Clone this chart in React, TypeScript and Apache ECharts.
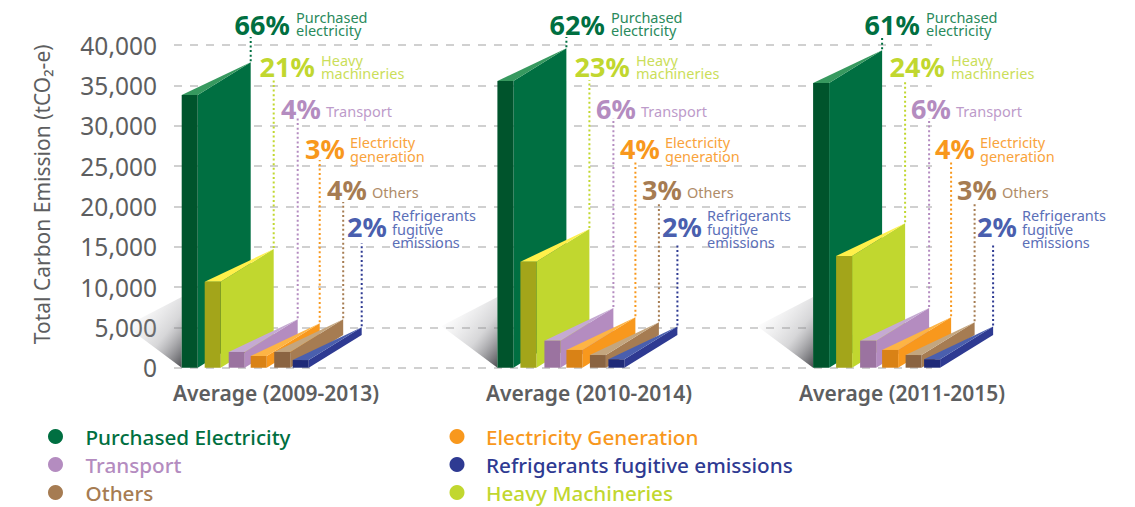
import React, { useEffect, useRef } from "react";
import * as echarts from "echarts";

const periods = ["Average (2009-2013)", "Average (2010-2014)", "Average (2011-2015)"];
const purchased = [33800, 35540, 35290];
const heavy = [10660, 13140, 13850];
const transport = [1950, 3350, 3350];
const electricity = [1450, 2200, 2200];
const others = [1950, 1570, 1570];
const refrigerants = [950, 1040, 1040];

const purchasedPct = [66, 62, 61];
const heavyPct = [21, 23, 24];
const transportPct = [4, 6, 6];
const electricityPct = [3, 4, 4];
const othersPct = [4, 3, 3];
const refrigerantsPct = [2, 2, 2];

const FONT = '"Noto Sans", sans-serif';
const GREY = "#5d5e60";
const GROUP_STEP = 315.7;
const TEXT_STEP = 315;
const BAR_W = 16;
const DEPTH_X = 53;
const DEPTH_Y = 32.7;
const GRID_LEFT = 174;
const GRID_WIDTH = 758;
const BASE_X = 181.7;

type Spec = {
  name: string;
  values: number[];
  pct: number[];
  offset: number;
  front: string;
  side: string;
  top: string;
  legend: string;
  pctColor: string;
  nameColor: string;
  lines: string[];
  pctX: number;
  pctY: number;
  nameX: number;
  nameY: number;
  leaderTop: number;
};

const specs: Spec[] = [
  { name: "Purchased Electricity", values: purchased, pct: purchasedPct, offset: 0, front: "#00542c", side: "#006f41", top: "#37995f", legend: "#006f41", pctColor: "#006f41", nameColor: "#2a8a5c", lines: ["Purchased", "electricity"], pctX: 234.5, pctY: 24, nameX: 296, nameY: 23.5, leaderTop: 37 },
  { name: "Heavy Machineries", values: heavy, pct: heavyPct, offset: 23, front: "#a3a51a", side: "#c1d72f", top: "#fff04a", legend: "#c1d72f", pctColor: "#c1d72f", nameColor: "#cbde5a", lines: ["Heavy", "machineries"], pctX: 259.5, pctY: 66, nameX: 321, nameY: 66.5, leaderTop: 80 },
  { name: "Transport", values: transport, pct: transportPct, offset: 47, front: "#9b73a0", side: "#b48cc0", top: "#c5aad2", legend: "#b48cc0", pctColor: "#b48cc0", nameColor: "#bd9bca", lines: ["Transport"], pctX: 281, pctY: 108, nameX: 326, nameY: 111, leaderTop: 118 },
  { name: "Electricity Generation", values: electricity, pct: electricityPct, offset: 69, front: "#d98216", side: "#f8981d", top: "#fdb445", legend: "#f8981d", pctColor: "#f8981d", nameColor: "#f9a33c", lines: ["Electricity", "generation"], pctX: 305, pctY: 148, nameX: 350, nameY: 149, leaderTop: 160 },
  { name: "Others", values: others, pct: othersPct, offset: 92.5, front: "#8a6442", side: "#a67c52", top: "#c4a67f", legend: "#a67c52", pctColor: "#a67c52", nameColor: "#b08c68", lines: ["Others"], pctX: 327, pctY: 189, nameX: 372, nameY: 191.5, leaderTop: 202 },
  { name: "Refrigerants fugitive emissions", values: refrigerants, pct: refrigerantsPct, offset: 111, front: "#1f2a78", side: "#2e3a92", top: "#4a5fae", legend: "#2e3a92", pctColor: "#4a5fae", nameColor: "#5b6fb8", lines: ["Refrigerants", "fugitive", "emissions"], pctX: 347, pctY: 226, nameX: 392, nameY: 228.5, leaderTop: 243 },
];

const leftLegend = ["Purchased Electricity", "Transport", "Others"];
const rightLegend = ["Electricity Generation", "Refrigerants fugitive emissions", "Heavy Machineries"];

function legendData(names: string[]) {
  return names.map((name) => ({
    name,
    textStyle: { color: specs.find((s) => s.name === name)!.legend },
  }));
}

function makeRender(spec: Spec, withShadow: boolean) {
  return (_params: any, api: any) => {
    const g = api.value(0);
    const v = api.value(1);
    const p = api.value(2);
    const bottom = api.coord([g, 0]);
    const head = api.coord([g, v]);
    const x0 = bottom[0] + spec.offset;
    const x1 = x0 + BAR_W;
    const x2 = x1 + DEPTH_X;
    const y0 = bottom[1];
    const yt = head[1];
    const children: any[] = [];
    if (withShadow) {
      children.push({
        type: "polygon",
        shape: { points: [[x0 - 56, 326], [x0, 297], [x0, y0]] },
        style: {
          fill: new echarts.graphic.LinearGradient(0.15, 0.2, 0.95, 1, [
            { offset: 0, color: "rgba(170,170,175,0)" },
            { offset: 0.55, color: "rgba(140,140,145,0.35)" },
            { offset: 1, color: "rgba(70,70,75,0.9)" },
          ]),
        },
      });
    }
    children.push({
      type: "polygon",
      shape: { points: [[x1, yt], [x2, yt - DEPTH_Y], [x2, y0 - DEPTH_Y], [x1, y0]] },
      style: { fill: spec.side },
    });
    children.push({
      type: "polygon",
      shape: { points: [[x0, yt], [x2, yt - DEPTH_Y], [x1, yt]] },
      style: { fill: spec.top },
    });
    children.push({
      type: "rect",
      shape: { x: x0, y: yt, width: BAR_W, height: y0 - yt },
      style: { fill: spec.front },
    });
    children.push({
      type: "line",
      shape: { x1: x2, y1: yt - DEPTH_Y - 1, x2, y2: spec.leaderTop },
      style: { stroke: spec.legend, lineWidth: 2, lineDash: [2, 2.6], fill: null },
    });
    const tx = TEXT_STEP * g;
    children.push({
      type: "text",
      style: {
        x: spec.pctX + tx,
        y: spec.pctY,
        text: `${p}%`,
        fill: spec.pctColor,
        font: `700 27px ${FONT}`,
        verticalAlign: "middle",
        align: "left",
      },
    });
    children.push({
      type: "text",
      style: {
        x: spec.nameX + tx,
        y: spec.nameY,
        text: spec.lines.join("\n"),
        fill: spec.nameColor,
        font: `400 14.5px ${FONT}`,
        lineHeight: 13.5,
        verticalAlign: "middle",
        align: "left",
      },
    });
    return { type: "group", children };
  };
}

export default function App() {
  const ref = useRef<HTMLDivElement>(null);
  useEffect(() => {
    document.body.style.margin = "0";
    const chart = echarts.init(ref.current!, undefined, { renderer: "svg" });
    const legendBase = {
      orient: "vertical" as const,
      icon: "circle",
      itemHeight: 15,
      itemGap: 7,
      padding: 0,
      height: 80,
      selectedMode: false,
      textStyle: { fontFamily: FONT, fontSize: 20.7, fontWeight: 500 as any, lineHeight: 20 },
    };
    chart.setOption({
      animation: false,
      backgroundColor: "#ffffff",
      textStyle: { fontFamily: FONT },
      grid: [
        { left: GRID_LEFT, top: 45, width: GRID_WIDTH, height: 322.7 },
        { left: 119.5, top: 45, width: 939, height: 322.7 },
      ],
      xAxis: [
        {
          type: "value",
          gridIndex: 0,
          show: false,
          min: (GRID_LEFT - BASE_X) / GROUP_STEP,
          max: (GRID_LEFT - BASE_X + GRID_WIDTH) / GROUP_STEP,
          splitLine: { show: false },
        },
        {
          type: "category",
          gridIndex: 1,
          data: periods,
          axisLine: { show: false },
          axisTick: { show: false },
          axisLabel: { color: GREY, fontFamily: FONT, fontSize: 21, fontWeight: 600, margin: 15 },
        },
      ],
      yAxis: [
        {
          type: "value",
          gridIndex: 0,
          min: 0,
          max: 40000,
          interval: 5000,
          name: "Total Carbon Emission (tCO₂-e)",
          nameLocation: "middle",
          nameGap: 122,
          nameRotate: 90,
          nameTextStyle: { color: GREY, fontFamily: FONT, fontSize: 21, padding: [0, 0, 0, 24] },
          axisLine: { show: false },
          axisTick: { show: false },
          axisLabel: { color: GREY, fontFamily: FONT, fontSize: 24.5, margin: 17, padding: [3, 0, 0, 0] },
          splitLine: { show: true, lineStyle: { color: "#d0d0d0", width: 2, type: [8, 8] } },
        },
        { type: "value", gridIndex: 1, show: false, min: 0, max: 1, splitLine: { show: false } },
      ],
      legend: [
        { ...legendBase, left: 48, top: 426, itemWidth: 50, data: legendData(leftLegend) },
        { ...legendBase, left: 449.5, top: 426, itemWidth: 48, data: legendData(rightLegend) },
      ],
      series: specs.map((s, i) => ({
        type: "custom",
        name: s.name,
        xAxisIndex: 0,
        yAxisIndex: 0,
        silent: true,
        clip: false,
        z: 3 + i,
        itemStyle: { color: s.legend },
        encode: { x: 0, y: 1 },
        data: s.values.map((v, g) => [g, v, s.pct[g]]),
        renderItem: makeRender(s, i === 0),
      })),
    });
    return () => chart.dispose();
  }, []);
  return <div ref={ref} style={{ width: 1135, height: 507 }} />;
}
